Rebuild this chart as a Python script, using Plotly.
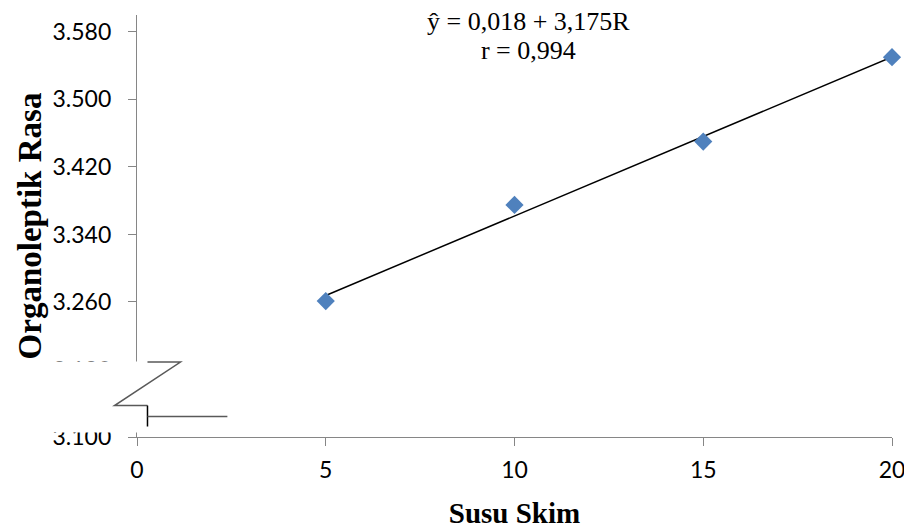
import numpy as np
import plotly.graph_objects as go

susu_skim = [5, 10, 15, 20]
rasa = [3.261, 3.375, 3.450, 3.550]
y_ticks = [3.100, 3.180, 3.260, 3.340, 3.420, 3.500, 3.580]
y_tick_labels = ["3.100", "3.180", "3.260", "3.340", "3.420", "3.500", "3.580"]
x_ticks = [0, 5, 10, 15, 20]
equation_lines = ["ŷ = 0,018 + 3,175R", "r = 0,994"]

OFF = 8  # default page body margin
W, H = 912, 528
# plot area in screen pixels
SL, SR, ST, SB = 136.5, 892.5, 15, 437.5
L, R, T, B = SL - OFF, SR - OFF, ST - OFF, SB - OFF

def px(sx):
    return (sx - SL) / (SR - SL)

def py(sy):
    return (SB - sy) / (SB - ST)

slope, intercept = np.polyfit(susu_skim, rasa, 1)
trend_x = [min(susu_skim), max(susu_skim)]
trend_y = [intercept + slope * v for v in trend_x]

fig = go.Figure()
fig.add_trace(go.Scatter(x=trend_x, y=trend_y, mode="lines",
                         line=dict(color="black", width=1.5), hoverinfo="skip"))
fig.add_trace(go.Scatter(x=susu_skim, y=rasa, mode="markers", cliponaxis=False,
                         marker=dict(symbol="diamond", size=14, color="#4F81BD")))

axis_col = "#868686"
tick_font = dict(family="Lato", size=23, color="black")
fig.update_layout(
    width=W, height=H, showlegend=False,
    paper_bgcolor="white", plot_bgcolor="white",
    margin=dict(l=L, r=W - R, t=T, b=H - B),
    xaxis=dict(range=[0, 20], tickvals=x_ticks, showgrid=False, zeroline=False,
               showline=True, linecolor=axis_col, linewidth=1.3,
               ticks="outside", ticklen=8, tickcolor=axis_col,
               tickfont=tick_font, ticklabelstandoff=4, ticklabeloverflow="allow",
               title=dict(text="<b>Susu Skim</b>", standoff=20,
                          font=dict(family="Liberation Serif", size=29, color="black"))),
    yaxis=dict(range=[3.1, 3.6], tickvals=y_ticks, ticktext=y_tick_labels,
               showgrid=False, zeroline=False,
               showline=True, linecolor=axis_col, linewidth=1.3,
               ticks="outside", ticklen=8, tickcolor=axis_col,
               tickfont=tick_font, ticklabelstandoff=12,
               title=dict(text="<b>Organoleptik Rasa</b>", standoff=0,
                          font=dict(family="Liberation Serif", size=33, color="black"))),
)

# axis break: white mask then zigzag
fig.add_shape(type="rect", xref="paper", yref="paper",
              x0=px(40), x1=px(250), y0=py(433), y1=py(362),
              fillcolor="white", line=dict(width=0), layer="above")
zig = "M {} {} L {} {} L {} {} L {} {}".format(
    px(147), py(362.5), px(180), py(362.5), px(114), py(406), px(147), py(406))
fig.add_shape(type="path", xref="paper", yref="paper", path=zig,
              line=dict(color="#595959", width=1.5), layer="above")
fig.add_shape(type="line", xref="paper", yref="paper",
              x0=px(147), x1=px(147), y0=py(406), y1=py(427),
              line=dict(color="black", width=1.5), layer="above")
fig.add_shape(type="line", xref="paper", yref="paper",
              x0=px(147), x1=px(227), y0=py(417), y1=py(417),
              line=dict(color="#595959", width=1.5), layer="above")

eq_text = "<br>".join("<span style='font-size:26px'>{}</span>".format(s) for s in equation_lines)
fig.add_annotation(xref="paper", yref="paper", x=px(529), y=py(36.5), yanchor="middle",
                   text=eq_text, showarrow=False, borderpad=0,
                   font=dict(family="Liberation Serif", size=22, color="black"))

fig.write_html("out.html", config={"displayModeBar": False})
